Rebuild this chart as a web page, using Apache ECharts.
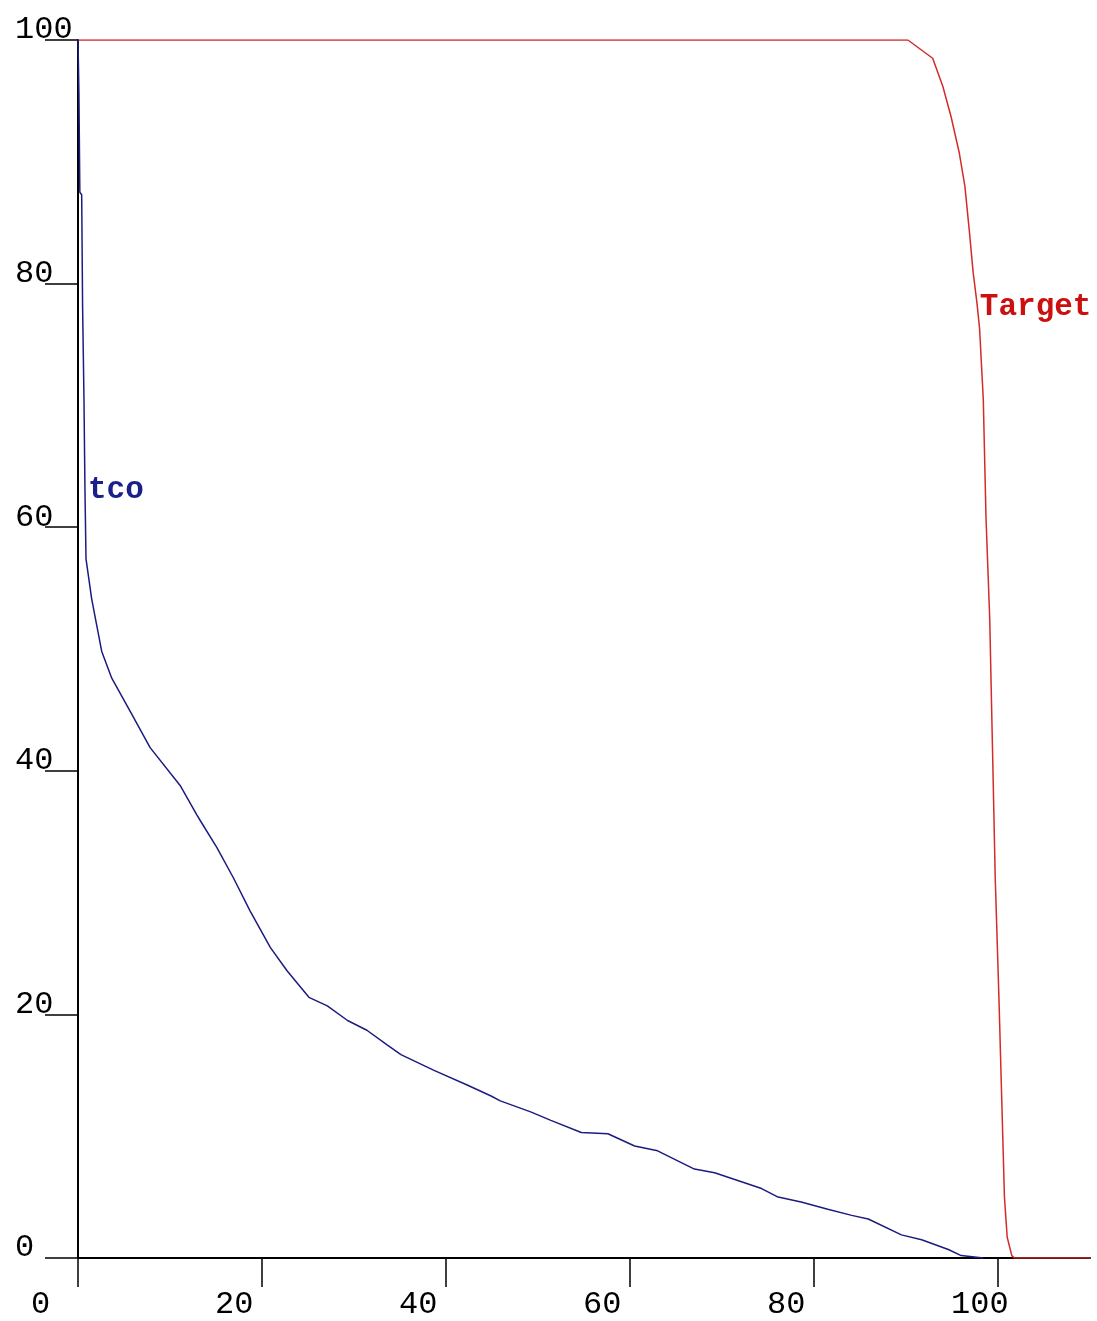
<!DOCTYPE html>
<html>
<head>
<meta charset="utf-8">
<script src="https://cdn.jsdelivr.net/npm/echarts@6/dist/echarts.min.js"></script>
<style>
html,body{margin:0;padding:0;background:#fff;}
#chart{width:1097px;height:1321px;}
</style>
</head>
<body>
<div id="chart"></div>
<script>
// Tick values
const xTicks = [0, 20, 40, 60, 80, 100];
const yTicks = [0, 20, 40, 60, 80, 100];

// Series names
const seriesNames = ['tco', 'Target'];

// tco curve [x, y]
const tcoData = [
  [0, 100], [0.1, 95.6], [0.2, 87.5], [0.4, 87.3], [0.5, 78.1], [0.65, 70.5],
  [0.76, 62.9], [0.87, 57.4], [1.49, 54.1], [2.58, 49.8], [3.67, 47.6],
  [5.66, 44.9], [7.84, 41.9], [11.1, 38.8], [12.9, 36.4], [13.3, 35.9],
  [15.1, 33.7], [16.9, 31.2], [18.7, 28.5], [20.9, 25.5], [22.7, 23.6],
  [25.1, 21.4], [27.1, 20.7], [29.3, 19.5], [31.4, 18.7], [33.6, 17.5],
  [35.1, 16.7], [38.7, 15.4], [42.3, 14.2], [44.9, 13.3], [45.9, 12.9],
  [49.2, 12.0], [51.4, 11.3], [54.7, 10.3], [57.6, 10.2], [60.5, 9.2],
  [63.0, 8.8], [67.0, 7.3], [69.2, 7.0], [74.3, 5.7], [76.1, 5.0],
  [78.6, 4.6], [81.5, 4.0], [84.1, 3.5], [85.9, 3.2], [89.5, 1.9],
  [91.7, 1.5], [94.6, 0.7], [96.0, 0.2], [98.4, 0]
];
const tcoLabelIndex = 6;

// Target curve [x, y]
const targetData = [
  [0, 100], [90.2, 100], [92.9, 98.5], [94.0, 96.2], [94.9, 93.7], [95.8, 90.7],
  [96.4, 88.0], [96.9, 84.2], [97.3, 80.9], [97.7, 78.5], [98.0, 76.3],
  [98.4, 70.5], [98.7, 60.7], [99.1, 52.5], [99.4, 41.9], [99.7, 31.2],
  [100.1, 21.4], [100.4, 13.2], [100.7, 5.0], [101.0, 1.7], [101.5, 0.2],
  [101.8, 0], [110, 0]
];
const targetLabelIndex = 9;

const tickFont = 'Liberation Mono';

function nameMark(data, idx, name, color, dy) {
  return {
    silent: true,
    symbol: 'circle', symbolSize: 0.01,
    itemStyle: {color: 'rgba(0,0,0,0)'},
    label: {
      show: true, position: 'right', distance: 3, offset: [0, dy], formatter: name,
      color: color, fontFamily: 'Liberation Mono', fontWeight: 'bold', fontSize: 31
    },
    data: [{coord: data[idx]}]
  };
}

const chart = echarts.init(document.getElementById('chart'), null, {renderer: 'canvas'});
chart.setOption({
  animation: false,
  backgroundColor: '#ffffff',
  grid: {left: 78, top: 40, right: 7, bottom: 60, containLabel: false},
  xAxis: {
    type: 'value', min: 0, max: 110, interval: 20,
    axisLine: {show: true, onZero: false, lineStyle: {color: '#000', width: 2}},
    axisTick: {show: true, inside: false, length: 29, customValues: xTicks, lineStyle: {color: '#000', width: 1.5}},
    axisLabel: {
      show: true, customValues: xTicks, margin: 31, align: 'left', padding: [0, 0, 0, -47],
      color: '#000', fontFamily: tickFont, fontSize: 32
    },
    splitLine: {show: false}
  },
  yAxis: {
    type: 'value', min: 0, max: 100, interval: 20,
    axisLine: {show: true, onZero: false, lineStyle: {color: '#000', width: 2}},
    axisTick: {show: true, inside: false, length: 33, customValues: yTicks, lineStyle: {color: '#000', width: 1.5}},
    axisLabel: {
      show: true, customValues: yTicks, margin: 63, align: 'left', verticalAlign: 'bottom',
      padding: [0, 0, -6, 0],
      color: '#000', fontFamily: tickFont, fontSize: 32
    },
    splitLine: {show: false}
  },
  series: [
    {
      name: seriesNames[1], type: 'line', showSymbol: false, symbol: 'none',
      data: targetData,
      lineStyle: {color: '#d42a2a', width: 1.5}, z: 2,
      markPoint: nameMark(targetData, targetLabelIndex, seriesNames[1], '#cc1010', 5)
    },
    {
      name: seriesNames[0], type: 'line', showSymbol: false, symbol: 'none',
      data: tcoData,
      lineStyle: {color: '#1c1c80', width: 1.5}, z: 3,
      markPoint: nameMark(tcoData, tcoLabelIndex, seriesNames[0], '#1a1f8c', -2)
    }
  ]
});
</script>
</body>
</html>
